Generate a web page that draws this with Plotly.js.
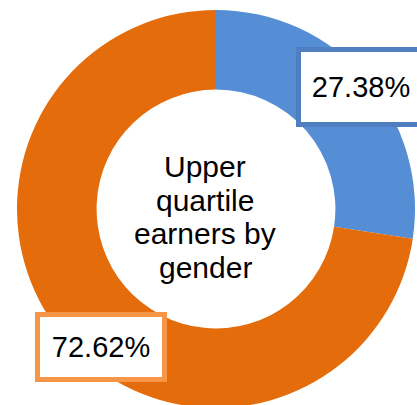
<!DOCTYPE html>
<html>
<head>
<meta charset="utf-8">
<script src="https://cdn.plot.ly/plotly-3.0.1.min.js"></script>
<style>
html, body { margin: 0; padding: 0; overflow: hidden; background: #ffffff; }
#chart { width: 417px; height: 420px; }
</style>
</head>
<body>
<div id="chart"></div>
<script>
// Data
const categories = ["Women", "Men"];
const shares = [27.38, 72.62];
const labelTexts = ["27.38%", "72.62%"];
const centerLines = ["Upper", "quartile", "earners by", "gender"];

const sliceColors = ["#558ED5", "#E46C0A"];
const boxBorders = ["#4F7FC0", "#F79646"];

const W = 417, H = 420;
const px = (x) => x / W;
const py = (y) => 1 - y / H;

const trace = {
  type: "pie",
  labels: categories,
  values: shares,
  hole: 0.6,
  sort: false,
  direction: "clockwise",
  rotation: 0,
  textinfo: "none",
  hoverinfo: "none",
  showlegend: false,
  marker: { colors: sliceColors, line: { width: 0 } },
  domain: { x: [px(17), px(415)], y: [py(408), py(10)] }
};

const font = { family: "Liberation Sans, Arial, sans-serif", color: "#000000" };

const labelPos = [
  { x: 361, y: 87, w: 120, h: 70 },
  { x: 101, y: 347, w: 122, h: 60 }
];

const annotations = [];
labelTexts.forEach((t, i) => {
  annotations.push({
    xref: "paper", yref: "paper",
    x: px(labelPos[i].x), y: py(labelPos[i].y),
    xanchor: "center", yanchor: "middle",
    text: t, showarrow: false,
    font: Object.assign({}, font, { size: 29 }),
    bgcolor: "#ffffff",
    bordercolor: boxBorders[i],
    borderwidth: 5,
    borderpad: 0,
    width: labelPos[i].w,
    height: labelPos[i].h
  });
});

const centerBaselines = [177, 210, 243, 277];
centerLines.forEach((t, i) => {
  annotations.push({
    xref: "paper", yref: "paper",
    x: px(205), y: py(centerBaselines[i] - 10),
    xanchor: "center", yanchor: "middle",
    text: t, showarrow: false,
    font: Object.assign({}, font, { size: 30 })
  });
});

const layout = {
  width: W, height: H,
  margin: { l: 0, r: 0, t: 0, b: 0 },
  paper_bgcolor: "#ffffff",
  plot_bgcolor: "#ffffff",
  annotations: annotations
};

Plotly.newPlot("chart", [trace], layout, { displayModeBar: false, staticPlot: true });
</script>
</body>
</html>
